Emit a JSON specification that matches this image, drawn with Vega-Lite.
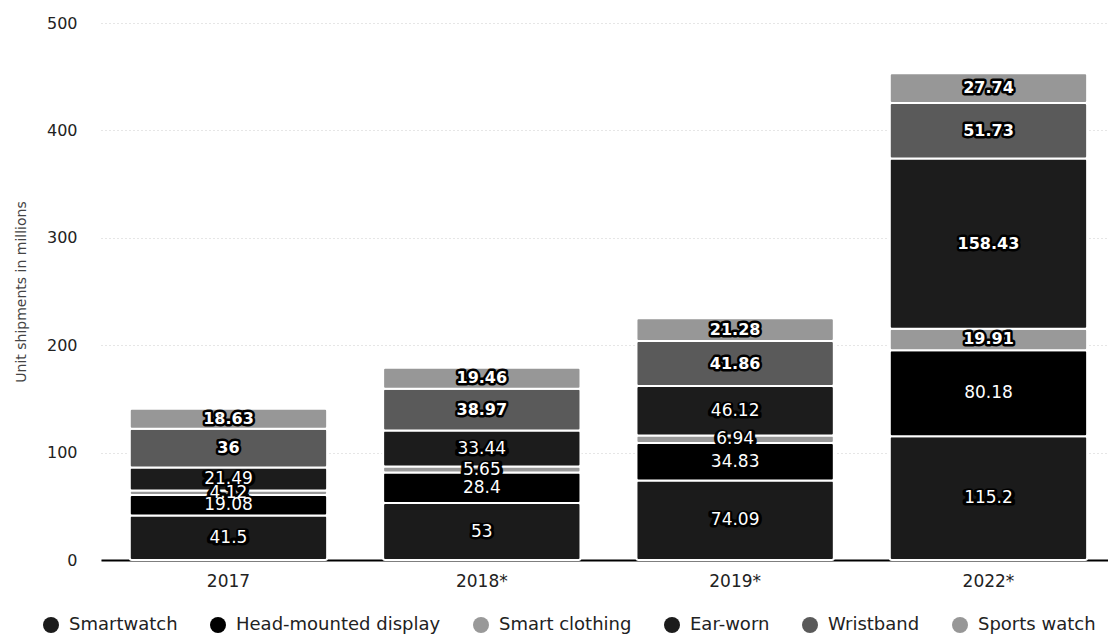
{
  "$schema": "https://vega.github.io/schema/vega-lite/v6.json",
  "width": 1007,
  "height": 537,
  "padding": {"left": 101, "top": 23, "right": 0, "bottom": 77},
  "autosize": {"type": "none"},
  "background": "white",
  "config": {
    "font": "DejaVu Sans",
    "view": {"stroke": null},
    "axisY": {
      "titleFontSize": 14,
      "titleFontWeight": "normal",
      "titleColor": "#444444",
      "titlePadding": 18,
      "labelFontSize": 16,
      "labelColor": "#222222",
      "labelPadding": 24,
      "labelOverlap": false,
      "ticks": false,
      "domain": false,
      "gridColor": "#cccccc",
      "gridDash": [1, 3],
      "gridWidth": 1
    }
  },
  "data": {
    "values": [
      {"year": "2017", "device": "Smartwatch", "idx": 1, "value": 41.5},
      {"year": "2017", "device": "Head-mounted display", "idx": 2, "value": 19.08},
      {"year": "2017", "device": "Smart clothing", "idx": 3, "value": 4.12},
      {"year": "2017", "device": "Ear-worn", "idx": 4, "value": 21.49},
      {"year": "2017", "device": "Wristband", "idx": 5, "value": 36},
      {"year": "2017", "device": "Sports watch", "idx": 6, "value": 18.63},
      {"year": "2018*", "device": "Smartwatch", "idx": 1, "value": 53},
      {"year": "2018*", "device": "Head-mounted display", "idx": 2, "value": 28.4},
      {"year": "2018*", "device": "Smart clothing", "idx": 3, "value": 5.65},
      {"year": "2018*", "device": "Ear-worn", "idx": 4, "value": 33.44},
      {"year": "2018*", "device": "Wristband", "idx": 5, "value": 38.97},
      {"year": "2018*", "device": "Sports watch", "idx": 6, "value": 19.46},
      {"year": "2019*", "device": "Smartwatch", "idx": 1, "value": 74.09},
      {"year": "2019*", "device": "Head-mounted display", "idx": 2, "value": 34.83},
      {"year": "2019*", "device": "Smart clothing", "idx": 3, "value": 6.94},
      {"year": "2019*", "device": "Ear-worn", "idx": 4, "value": 46.12},
      {"year": "2019*", "device": "Wristband", "idx": 5, "value": 41.86},
      {"year": "2019*", "device": "Sports watch", "idx": 6, "value": 21.28},
      {"year": "2022*", "device": "Smartwatch", "idx": 1, "value": 115.2},
      {"year": "2022*", "device": "Head-mounted display", "idx": 2, "value": 80.18},
      {"year": "2022*", "device": "Smart clothing", "idx": 3, "value": 19.91},
      {"year": "2022*", "device": "Ear-worn", "idx": 4, "value": 158.43},
      {"year": "2022*", "device": "Wristband", "idx": 5, "value": 51.73},
      {"year": "2022*", "device": "Sports watch", "idx": 6, "value": 27.74}
    ]
  },
  "transform": [
    {"stack": "value", "groupby": ["year"], "sort": [{"field": "idx", "order": "ascending"}], "as": ["v0", "v1"]},
    {"calculate": "(datum.v0 + datum.v1) / 2", "as": "mid"}
  ],
  "encoding": {
    "x": {
      "field": "year",
      "type": "nominal",
      "sort": null,
      "scale": {"paddingInner": 0.221, "paddingOuter": 0.098, "align": 0.58},
      "axis": {
        "title": null,
        "labelAngle": 0,
        "labelFontSize": 17,
        "labelColor": "#222222",
        "labelPadding": 13,
        "ticks": false,
        "domainColor": "#000000",
        "domainWidth": 2
      }
    }
  },
  "layer": [
    {
      "mark": {"type": "bar", "stroke": "white", "strokeWidth": 2, "cornerRadius": 2},
      "encoding": {
        "y": {
          "field": "v0",
          "type": "quantitative",
          "title": "Unit shipments in millions",
          "scale": {"domain": [0, 500], "nice": false},
          "axis": {"values": [0, 100, 200, 300, 400, 500]}
        },
        "y2": {"field": "v1"},
        "color": {
          "field": "device",
          "type": "nominal",
          "sort": ["Smartwatch", "Head-mounted display", "Smart clothing", "Ear-worn", "Wristband", "Sports watch"],
          "scale": {
            "domain": ["Smartwatch", "Head-mounted display", "Smart clothing", "Ear-worn", "Wristband", "Sports watch"],
            "range": ["#1b1b1b", "#000000", "#999999", "#1c1c1c", "#5a5a5a", "#979797"]
          },
          "legend": {
            "title": null,
            "orient": "none",
            "direction": "horizontal",
            "legendX": -59,
            "legendY": 593,
            "symbolType": "circle",
            "symbolSize": 256,
            "symbolStrokeWidth": 0,
            "labelFontSize": 18,
            "labelLimit": 0,
            "labelColor": "#222222",
            "labelOffset": 9,
            "columnPadding": 31
          }
        }
      }
    },
    {
      "mark": {"type": "text", "fontSize": 16, "fontWeight": "bold", "stroke": "#000000", "strokeWidth": 5, "strokeJoin": "round", "fill": "#000000", "baseline": "middle"},
      "encoding": {
        "y": {"field": "mid", "type": "quantitative", "title": "Unit shipments in millions", "axis": {"values": [0, 100, 200, 300, 400, 500]}},
        "text": {"field": "value", "type": "quantitative", "format": ""}
      }
    },
    {
      "transform": [{"filter": "datum.idx == 5 || datum.idx == 6 || (datum.idx == 3 && datum.value > 15) || (datum.idx == 4 && datum.value > 100)"}],
      "mark": {"type": "text", "fontSize": 16, "fontWeight": "bold", "fill": "#ffffff", "baseline": "middle"},
      "encoding": {
        "y": {"field": "mid", "type": "quantitative", "title": "Unit shipments in millions", "axis": {"values": [0, 100, 200, 300, 400, 500]}},
        "text": {"field": "value", "type": "quantitative", "format": ""}
      }
    },
    {
      "transform": [{"filter": "!(datum.idx == 5 || datum.idx == 6 || (datum.idx == 3 && datum.value > 15) || (datum.idx == 4 && datum.value > 100))"}],
      "mark": {"type": "text", "fontSize": 17, "fill": "#ffffff", "baseline": "middle"},
      "encoding": {
        "y": {"field": "mid", "type": "quantitative", "title": "Unit shipments in millions", "axis": {"values": [0, 100, 200, 300, 400, 500]}},
        "text": {"field": "value", "type": "quantitative", "format": ""}
      }
    }
  ]
}
